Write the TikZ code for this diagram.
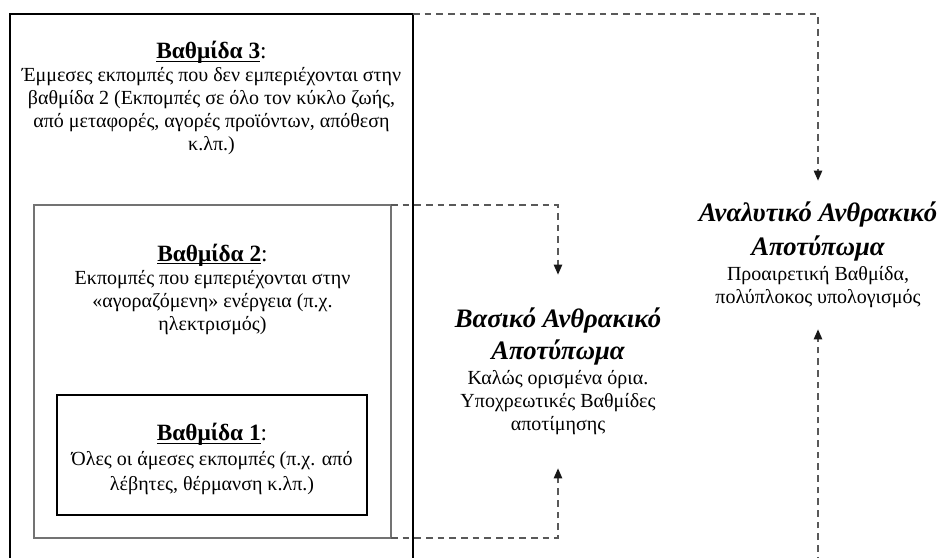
\documentclass[tikz,border=0pt]{standalone}
\usepackage{fontspec}
\setmainfont{Liberation Serif}
\usetikzlibrary{arrows.meta,fit}

\tikzset{
  tierbox/.style={draw,inner sep=0pt,outer sep=0pt},
  tierthree/.style={tierbox,line width=1.2pt},
  tiertwo/.style={tierbox,draw=black!55,line width=0.8pt},
  tierone/.style={tierbox,line width=1pt},
  tiertext/.style={align=center,inner sep=0pt,font=\fontsize{12}{13.8}\selectfont},
  footprint/.style={align=center,inner sep=0pt,font=\fontsize{12}{13.8}\selectfont},
  link/.style={draw=black!65,line width=0.9pt,dash pattern=on 4pt off 3pt,
    -{Triangle[length=6pt,width=5pt,color=black!90]}}
}
\newsavebox{\headbox}
\newcommand{\tierhead}[1]{{\fontsize{14}{15}\selectfont
  \sbox{\headbox}{\textbf{Βαθμίδα #1}}\rlap{\usebox{\headbox}}\rule[-2pt]{\wd\headbox}{0.7pt}:}}
\newcommand{\fptitle}[1]{{\fontsize{16}{18.4}\selectfont\bfseries\itshape #1}}

\begin{document}
\begin{tikzpicture}[x=0.6pt,y=-0.6pt]
\clip (0,0) rectangle (943,558);

% nested tiers
\node[tierthree,fit={(10,14) (413,590)}] (t3) {};
\node[tiertwo,fit={(34,205) (391,538)}] (t2) {};
\node[tierone,fit={(57,395) (367,515)}] (t1) {};

\node[tiertext] (t3text) at (211.5,98) {\tierhead{3}\\
  Έμμεσες εκπομπές που δεν εμπεριέχονται στην\\
  βαθμίδα 2 (Εκπομπές σε όλο τον κύκλο ζωής,\\
  από μεταφορές, αγορές προϊόντων, απόθεση\\
  κ.λπ.)};
\node[tiertext] (t2text) at (212.5,289) {\tierhead{2}\\
  Εκπομπές που εμπεριέχονται στην\\
  «αγοραζόμενη» ενέργεια (π.χ.\\
  ηλεκτρισμός)};
\node[tiertext] (t1text) at (212,459) {\tierhead{1}\\[1pt]
  Όλες οι άμεσες εκπομπές (π.χ. από\\[1pt]
  λέβητες, θέρμανση κ.λπ.)};

% footprints
\node[footprint,minimum height=115.8pt] (basic) at (558,371.5) {\fptitle{Βασικό Ανθρακικό}\\[3pt]
  \fptitle{Αποτύπωμα}\\[1.3pt]
  Καλώς ορισμένα όρια.\\
  Υποχρεωτικές Βαθμίδες\\
  αποτίμησης};
\node[footprint,minimum height=88.8pt] (analytic) at (818,255) {\fptitle{Αναλυτικό Ανθρακικό}\\[4pt]
  \fptitle{Αποτύπωμα}\\[1.3pt]
  Προαιρετική Βαθμίδα,\\
  πολύπλοκος υπολογισμός};

% links
\draw[link] (t2.north east) -| (basic.north);
\draw[link] (t2.south east) -| (basic.south);
\draw[link] (t3.north east) -| (analytic.north);
\draw[link] (t3.south east) -| (analytic.south);
\end{tikzpicture}
\end{document}
